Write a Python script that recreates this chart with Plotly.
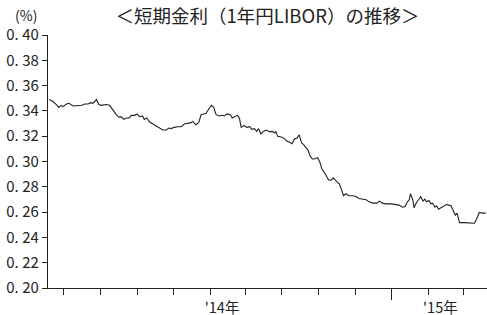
import plotly.graph_objects as go

dates = [
    "2013-04-07", "2013-04-13", "2013-04-19", "2013-04-23", "2013-04-27", "2013-04-30",
    "2013-05-06", "2013-05-10", "2013-05-17", "2013-05-25", "2013-06-01", "2013-06-05",
    "2013-06-11", "2013-06-15", "2013-06-19", "2013-06-25", "2013-06-29", "2013-07-03",
    "2013-07-11", "2013-07-17", "2013-07-23", "2013-07-28", "2013-08-02", "2013-08-05",
    "2013-08-10", "2013-08-14", "2013-08-19", "2013-08-22", "2013-08-28", "2013-09-01",
    "2013-09-05", "2013-09-10", "2013-09-13", "2013-09-17", "2013-09-22", "2013-09-27",
    "2013-10-03", "2013-10-08", "2013-10-14", "2013-10-20", "2013-10-24", "2013-10-28",
    "2013-11-02", "2013-11-08", "2013-11-14", "2013-11-19", "2013-11-25", "2013-11-30",
    "2013-12-03", "2013-12-08", "2013-12-13", "2013-12-17", "2013-12-21", "2013-12-25",
    "2013-12-31", "2014-01-03", "2014-01-07", "2014-01-11", "2014-01-16", "2014-01-21",
    "2014-01-25", "2014-01-29", "2014-02-04", "2014-02-07", "2014-02-11", "2014-02-16",
    "2014-02-19", "2014-02-22", "2014-02-27", "2014-03-03", "2014-03-08", "2014-03-12",
    "2014-03-16", "2014-03-20", "2014-03-23", "2014-03-27", "2014-03-31", "2014-04-05",
    "2014-04-10", "2014-04-15", "2014-04-19", "2014-04-21", "2014-04-24", "2014-04-30",
    "2014-05-05", "2014-05-09", "2014-05-14", "2014-05-18", "2014-05-22", "2014-05-26",
    "2014-05-30", "2014-06-03", "2014-06-06", "2014-06-11", "2014-06-14", "2014-06-17",
    "2014-06-21", "2014-06-24", "2014-06-30", "2014-07-04", "2014-07-07", "2014-07-11",
    "2014-07-15", "2014-07-18", "2014-07-22", "2014-07-26", "2014-07-31", "2014-08-05",
    "2014-08-10", "2014-08-12", "2014-08-16", "2014-08-21", "2014-08-28", "2014-09-02",
    "2014-09-07", "2014-09-13", "2014-09-19", "2014-09-24", "2014-09-30", "2014-10-07",
    "2014-10-11", "2014-10-16", "2014-10-22", "2014-10-31", "2014-11-08", "2014-11-13",
    "2014-11-19", "2014-11-23", "2014-11-27", "2014-11-30", "2014-12-02", "2014-12-06",
    "2014-12-08", "2014-12-12", "2014-12-16", "2014-12-19", "2014-12-23", "2014-12-26",
    "2014-12-29", "2015-01-02", "2015-01-05", "2015-01-08", "2015-01-12", "2015-01-15",
    "2015-01-18", "2015-01-22", "2015-01-26", "2015-01-31", "2015-02-04", "2015-02-08",
    "2015-02-12", "2015-02-15", "2015-02-18", "2015-02-22", "2015-03-02", "2015-03-10",
    "2015-03-19", "2015-03-23", "2015-03-27", "2015-04-02", "2015-04-07",
]
libor = [
    0.3490, 0.3476, 0.3450, 0.3428, 0.3444, 0.3434,
    0.3455, 0.3460, 0.3439, 0.3439, 0.3444, 0.3455,
    0.3455, 0.3465, 0.3460, 0.3490, 0.3450, 0.3444,
    0.3450, 0.3444, 0.3402, 0.3370, 0.3349, 0.3354,
    0.3333, 0.3344, 0.3344, 0.3365, 0.3365, 0.3376,
    0.3354, 0.3360, 0.3333, 0.3344, 0.3312, 0.3297,
    0.3281, 0.3270, 0.3249, 0.3249, 0.3265, 0.3260,
    0.3270, 0.3275, 0.3275, 0.3297, 0.3302, 0.3307,
    0.3317, 0.3291, 0.3307, 0.3370, 0.3376, 0.3380,
    0.3423, 0.3444, 0.3428, 0.3370, 0.3360, 0.3365,
    0.3360, 0.3376, 0.3370, 0.3344, 0.3354, 0.3365,
    0.3344, 0.3270, 0.3286, 0.3270, 0.3275, 0.3254,
    0.3260, 0.3238, 0.3260, 0.3217, 0.3238, 0.3249,
    0.3236, 0.3238, 0.3225, 0.3238, 0.3199, 0.3194,
    0.3183, 0.3162, 0.3152, 0.3141, 0.3178, 0.3183,
    0.3210, 0.3146, 0.3135, 0.3099, 0.3088, 0.3046,
    0.3020, 0.3020, 0.3030, 0.2988, 0.2940, 0.2913,
    0.2882, 0.2855, 0.2850, 0.2871, 0.2845, 0.2824,
    0.2760, 0.2729, 0.2745, 0.2729, 0.2729, 0.2723,
    0.2707, 0.2702, 0.2697, 0.2681, 0.2671, 0.2671,
    0.2687, 0.2671, 0.2665, 0.2665, 0.2660, 0.2655,
    0.2639, 0.2644, 0.2681, 0.2697, 0.2745, 0.2697,
    0.2634, 0.2676, 0.2702, 0.2723, 0.2687, 0.2702,
    0.2681, 0.2692, 0.2665, 0.2671, 0.2639, 0.2650,
    0.2623, 0.2634, 0.2644, 0.2660, 0.2655, 0.2650,
    0.2607, 0.2576, 0.2592, 0.2517, 0.2517, 0.2512,
    0.2512, 0.2549, 0.2597, 0.2592, 0.2592,
]

y_ticks = [0.20, 0.22, 0.24, 0.26, 0.28, 0.30, 0.32, 0.34, 0.36, 0.38, 0.40]
y_labels = ["0. 20", "0. 22", "0. 24", "0. 26", "0. 28", "0. 30",
            "0. 32", "0. 34", "0. 36", "0. 38", "0. 40"]
year_ticks = ["2014-01-01", "2015-01-01"]
year_labels = ["'14年", "'15年"]
long_tick = ["2014-11-01"]
x_range = ["2013-04-05", "2015-04-09"]

FONT = "Noto Sans CJK JP"
INK = "#222222"

fig = go.Figure()
fig.add_trace(go.Scatter(x=dates, y=libor, mode="lines",
                         line=dict(color=INK, width=1.1),
                         hoverinfo="skip", showlegend=False))
fig.add_trace(go.Scatter(x=[], y=[], xaxis="x2", showlegend=False, hoverinfo="skip"))
fig.add_trace(go.Scatter(x=[], y=[], xaxis="x3", showlegend=False, hoverinfo="skip"))

fig.update_layout(
    width=487, height=315,
    margin=dict(l=48, r=0, t=35, b=27, autoexpand=False),
    paper_bgcolor="white", plot_bgcolor="white",
    font=dict(family=FONT, color=INK, size=14),
    title=dict(text="＜短期金利（1年円LIBOR）の推移＞", x=0.5, xref="paper",
               xanchor="center", y=0.948, yanchor="middle",
               font=dict(family=FONT, size=18.5, color=INK)),
    xaxis=dict(type="date", range=x_range, showgrid=False, zeroline=False,
               automargin=False,
               showline=True, linecolor=INK, linewidth=1.2,
               ticks="outside", ticklen=6, tickcolor=INK, tickwidth=1,
               tick0="2013-05-01", dtick="M2", showticklabels=False),
    xaxis2=dict(type="date", range=x_range, overlaying="x", anchor="y",
                automargin=False,
                showgrid=False, zeroline=False, showline=False,
                tickmode="array", tickvals=year_ticks, ticktext=year_labels,
                ticks="outside", ticklen=0, ticklabelshift=12,
                ticklabelstandoff=7,
                tickfont=dict(family=FONT, size=14.5, color=INK)),
    xaxis3=dict(type="date", range=x_range, overlaying="x", anchor="y",
                automargin=False,
                showgrid=False, zeroline=False, showline=False,
                tickmode="array", tickvals=long_tick, showticklabels=False,
                ticks="outside", ticklen=11, tickcolor=INK, tickwidth=1),
    yaxis=dict(range=[0.20, 0.40], showgrid=False, zeroline=False,
               automargin=False,
               showline=True, linecolor=INK, linewidth=1.2,
               ticks="outside", ticklen=5, tickcolor=INK, tickwidth=1,
               tickmode="array", tickvals=y_ticks, ticktext=y_labels,
               tickfont=dict(family=FONT, size=15, color=INK)),
)
fig.add_annotation(text="(%)", xref="paper", yref="paper", x=-0.05, y=1.0,
                   yshift=20, xanchor="center", yanchor="middle", showarrow=False,
                   font=dict(family=FONT, size=14, color=INK))

fig.write_html("out.html",
               config={"displayModeBar": False, "staticPlot": True},
               post_script="document.body.style.margin='0';"
                           "document.body.style.overflow='hidden';")
